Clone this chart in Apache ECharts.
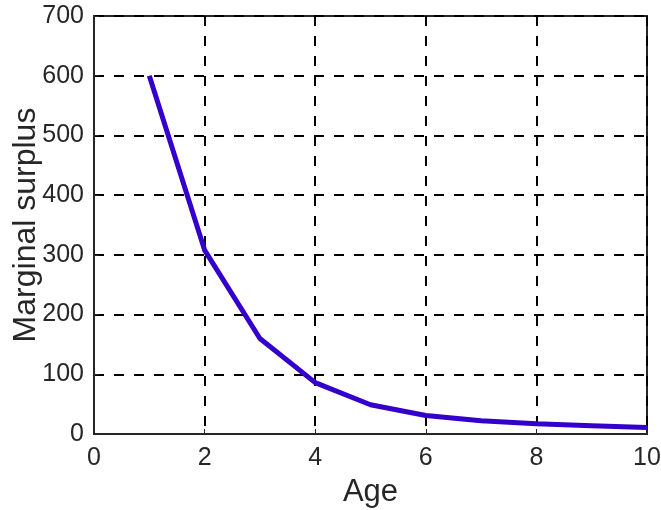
<!DOCTYPE html>
<html><head><meta charset="utf-8">
<script src="https://cdn.jsdelivr.net/npm/echarts@6/dist/echarts.min.js"></script>
<style>html,body{margin:0;padding:0;background:#fff}#c{width:661px;height:510px}</style>
</head><body><div id="c"></div>
<script>
const ages = [1, 2, 3, 4, 5, 6, 7, 8, 9, 10];
const surplus = [600, 308, 160, 86, 49, 31, 22, 17, 14, 11];
const xTicks = [0, 2, 4, 6, 8, 10];
const yTicks = [0, 100, 200, 300, 400, 500, 600, 700];

const chart = echarts.init(document.getElementById('c'));
const font = 'Liberation Sans, Arial, Helvetica, sans-serif';
chart.setOption({
  animation: false,
  backgroundColor: '#fff',
  grid: { left: 94, right: 14, top: 16, bottom: 76, outerBoundsMode: 'none', containLabel: false, show: true, borderColor: '#262626', borderWidth: 2, backgroundColor: 'transparent' },
  xAxis: {
    type: 'value', min: xTicks[0], max: xTicks[xTicks.length-1], interval: 2,
    name: 'Age', nameLocation: 'middle', nameGap: 43, nameMoveOverlap: false,
    nameTextStyle: { fontSize: 31, color: '#262626', fontFamily: font },
    axisLine: { show: true, onZero: false, lineStyle: { color: '#262626', width: 2 } },
    axisTick: { show: true, inside: true, length: 5, lineStyle: { color: '#262626' } },
    axisLabel: { fontSize: 25, color: '#262626', fontFamily: font, margin: 12 },
    splitLine: { show: true, lineStyle: { type: [10, 10], color: '#000', width: 2 } }
  },
  yAxis: {
    type: 'value', min: yTicks[0], max: yTicks[yTicks.length-1], interval: 100,
    name: 'Marginal surplus', nameLocation: 'middle', nameGap: 52, nameMoveOverlap: false,
    nameTextStyle: { fontSize: 32, color: '#262626', fontFamily: font },
    axisLine: { show: true, lineStyle: { color: '#262626', width: 2 } },
    axisTick: { show: true, inside: true, length: 5, lineStyle: { color: '#262626' } },
    axisLabel: { fontSize: 25, color: '#262626', fontFamily: font, margin: 10 },
    splitLine: { show: true, lineStyle: { type: [10, 10], color: '#000', width: 2 } }
  },
  series: [{
    type: 'line',
    data: ages.map((a, i) => [a, surplus[i]]),
    symbol: 'none',
    lineStyle: { color: '#3300CC', width: 5 },
    itemStyle: { color: '#3300CC' }
  }]
});
</script></body></html>
